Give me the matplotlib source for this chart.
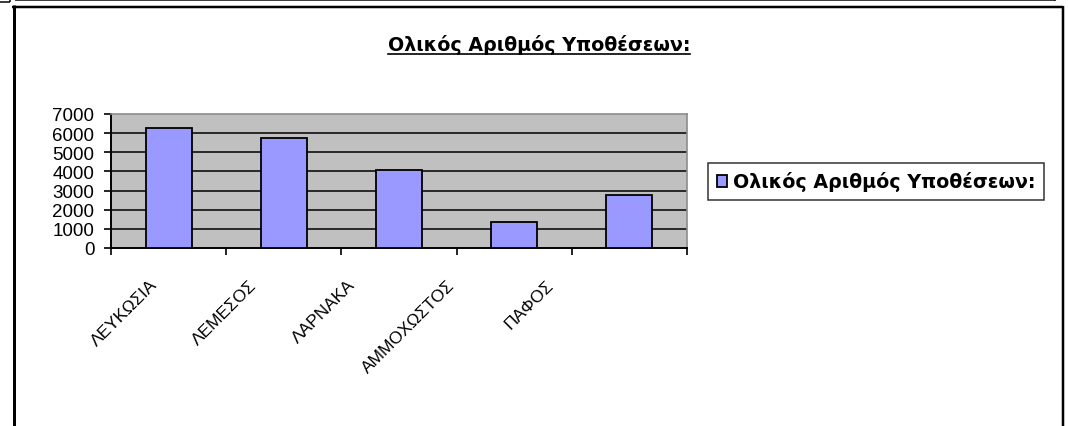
import numpy as np
import matplotlib
matplotlib.use("Agg")
import matplotlib.pyplot as plt
from matplotlib.lines import Line2D
from matplotlib.transforms import ScaledTranslation, blended_transform_factory

plt.rcParams['font.family'] = ['Liberation Sans', 'DejaVu Sans']

# Total number of cases per district
districts = ['ΛΕΥΚΩΣΙΑ', 'ΛΕΜΕΣΟΣ', 'ΛΑΡΝΑΚΑ', 'ΑΜΜΟΧΩΣΤΟΣ', 'ΠΑΦΟΣ']
cases = [6250, 5730, 4080, 1340, 2790]
yticks = [0, 1000, 2000, 3000, 4000, 5000, 6000, 7000]
series_name = 'Ολικός Αριθμός Υποθέσεων:'

W, H = 1068, 427
fig = plt.figure(figsize=(W / 100, H / 100), dpi=100)
fig.patch.set_facecolor('white')

bold_font = {'family': ['DejaVu Sans'], 'weight': 'bold', 'size': 13.7}


def px(x, y):
    # pixel position (from top-left) -> figure fraction
    return x / W, 1 - y / H


# sheet borders around the chart object
def frame_line(xs, ys, lw, color='black'):
    fx = [x / W for x in xs]
    fy = [1 - y / H for y in ys]
    fig.add_artist(Line2D(fx, fy, lw=lw * 0.72, color=color,
                          solid_capstyle='butt'))


frame_line([12, 1063], [8, 8], 2.5)
frame_line([13.5, 13.5], [6, H], 3)
frame_line([1062.5, 1062.5], [7, H], 2.5)
frame_line([15, 1055], [1.2, 1.2], 1.5)
frame_line([1055, 1055], [0, 2], 1.5)
frame_line([0, 10], [3, 3], 1.5)
frame_line([10, 10], [0, 3], 1.5)

# plot area
x0, y0 = px(111, 249)
ax = fig.add_axes([x0, y0, 576 / W, 134 / H])
ax.set_facecolor('#C0C0C0')

pos = np.arange(len(districts))
ax.bar(pos, cases, width=0.4, color='#9999FF', edgecolor='black',
       linewidth=1.3, zorder=3, label=series_name)

ax.set_xlim(-0.5, len(districts) - 0.5)
ax.set_ylim(0, 7000)
ax.set_yticks(yticks)
ax.set_yticklabels([str(v) for v in yticks])
for v in yticks[1:-1]:
    ax.axhline(v, color='black', lw=1.1, zorder=1)

ax.set_xticks(np.arange(len(districts) + 1) - 0.5)
ax.set_xticklabels([])
ax.tick_params(axis='x', direction='out', length=5, width=1.2, color='black')
ax.tick_params(axis='y', direction='out', length=5, width=1.2, color='black',
               labelsize=13.5, pad=7)

for side in ['left', 'bottom']:
    ax.spines[side].set_color('black')
    ax.spines[side].set_linewidth(1.4)
for side in ['top', 'right']:
    ax.spines[side].set_color('#8C8C8C')
    ax.spines[side].set_linewidth(1.2)

# rotated category labels
trans = blended_transform_factory(ax.transData, ax.transAxes)
for i, name in enumerate(districts):
    shift = ScaledTranslation((-14 - 16 * i) / 100, -34 / 100,
                              fig.dpi_scale_trans)
    ax.text(pos[i], 0, name, transform=trans + shift, rotation=45,
            rotation_mode='anchor', ha='right', va='center', fontsize=12.5)

# chart title, underlined
tx, ty = px(539, 51)
title = fig.text(tx, ty, series_name, ha='center', va='baseline',
                 fontdict=bold_font)
fig.canvas.draw()
bb = title.get_window_extent(renderer=fig.canvas.get_renderer())
ux0 = bb.x0 / W
ux1 = bb.x1 / W
uy = 1 - 54.5 / H
fig.add_artist(Line2D([ux0, ux1], [uy, uy], lw=1.2, color='black'))

# legend box
lx, ly = px(708, 182.5)
leg = ax.legend(loc='center left', bbox_to_anchor=(lx, ly),
                bbox_transform=fig.transFigure, frameon=True,
                fancybox=False, shadow=False, handlelength=0.55,
                handleheight=0.55, handletextpad=0.3, borderpad=0.45,
                borderaxespad=0, prop=bold_font)
leg.get_frame().set_edgecolor('black')
leg.get_frame().set_linewidth(1.1)

fig.savefig('out.png', dpi=100, facecolor='white')
